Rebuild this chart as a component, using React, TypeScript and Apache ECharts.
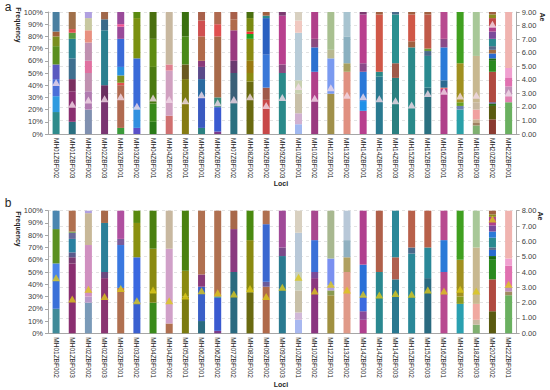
import React, { useEffect, useRef } from 'react';
import * as echarts from 'echarts';

const LOCI = ['MH01ZBF002','MH01ZBF003','MH02ZBF002','MH02ZBF003','MH03ZBF001','MH03ZBF002','MH04ZBF001','MH04ZBF002','MH05ZBF001','MH06ZBF001','MH06ZBF002','MH07ZBF002','MH08ZBF002','MH09ZBF002','MH09ZBF003','MH10ZBF001','MH10ZBF002','MH12ZBF001','MH13ZBF002','MH14ZBF001','MH14ZBF002','MH14ZBF003','MH15ZBF002','MH15ZBF003','MH16ZBF001','MH16ZBF002','MH18ZBF003','MH20ZBF002','MH22ZBF001'];

// Panel a: allele frequencies (%), bottom to top
const FREQ_A: number[][] = [
  [18,13,14,12,15,8,4,16],
  [10,25,10,17,16,5,3,14],
  [20,15,15,10,15,10,10,5],
  [27,13,45,9,6],
  [5,35,2,6,7,23,10,2,10],
  [5,17,40,33,5],
  [10,15,30,23,22],
  [15,37,5,43],
  [25,20,12,23,20],
  [5,25,15,10,5,20,13,7],
  [2,20,8,50,10,10],
  [25,25,10,25,9,6],
  [43,7,10,18,4,2,11,5],
  [28,10,27,30,2,3],
  [50,7,40,3],
  [8,9,16,11,39,10,7],
  [27,24,20,7,22],
  [33,29,7,31],
  [51,7,22,20],
  [19,8,24,7,40,2],
  [47,4,47,2],
  [46,12,40,2],
  [71,5,22,2],
  [38,26,4,2,28,2],
  [37,1,6,27,7,22],
  [20,3,3,32,42],
  [7,2,3,8,6,38,36],
  [12,11,2,1,25,9,2,4,3,3,6,6,4,7,3,2],
  [26,5,8,7,8,46],
];
const AE_A = [3.8,2.2,2.5,2.6,2.75,2.05,2.65,2.55,2.45,2.9,2.3,2.55,2.75,2.1,2.7,3.5,2.64,3.42,2.86,2.74,2.6,2.45,2.14,2.98,3.15,2.81,2.86,8.1,3.05];

// Panel b
const FREQ_B: number[][] = [
  [20,23,14,28,15],
  [57,5,4,11,5,1,17],
  [25,5,42,26,2],
  [45,5,40,10],
  [37,35,5,23],
  [25,37,28,10],
  [25,8,36,31],
  [8,61,31],
  [30,21,49],
  [10,28,10,52],
  [2,27,1,70],
  [50,35,15],
  [33,43,24],
  [38,4,47,11],
  [63,7,30],
  [11,6,18,15,32,18],
  [45,5,26,24],
  [31,4,4,22,39],
  [50,12,14,24],
  [11,7,12,26,44],
  [50,50],
  [44,18,38],
  [65,5,30],
  [45,25,30],
  [50,26,24],
  [24,6,30,40],
  [7,4,13,46,30],
  [18,26,16,3,5,2,8,5,5,7,2,3],
  [31,3,4,17,6,39],
];
const AE_B = [3.62,2.24,2.87,2.4,2.93,2.13,2.83,2.13,2.43,2.78,2.65,2.56,2.93,2.4,3.0,3.65,2.76,3.2,2.83,2.55,2.5,2.6,2.55,2.83,2.76,2.87,2.76,7.46,3.2];

const FREQ_TICKS = [0,10,20,30,40,50,60,70,80,90,100];
const AE_MAX_A = 9;
const AE_MAX_B = 8;

// Colours (styles), parallel to FREQ arrays
const COL_A: string[][] = [
  ['#2e8b8b','#2e9be0','#4a6fd8','#5a5ac0','#5a8f1e','#7a8f20','#a0603a','#4a7fa0'],
  ['#2a6f80','#8a2f70','#7a3060','#3f6f8f','#2a8090','#5a9a40','#e05050','#a0704a'],
  ['#8090b0','#b07ab0','#c090b0','#e070a0','#c090b0','#e89080','#c8c8a0','#b0a0e0'],
  ['#7a3572','#6a3060','#2a7f90','#3a6a8a','#a0684a'],
  ['#3a9a3a','#b06a50','#e05050','#7a9020','#2a90e0','#3a6ad8','#9a4a9a','#f05090','#9a4a9a'],
  ['#5a50c8','#3090e0','#3a6ad8','#7a9010','#5a8a10'],
  ['#2a7a18','#3a8a1a','#4a7a10','#5e8c12','#4a7010'],
  ['#d07070','#d0a0c0','#e08090','#c8b8a0'],
  ['#857b12','#7a7a10','#6a5a20','#4a8a1a','#3a7010'],
  ['#2a8080','#3a5ac0','#2a6aa0','#5a4a8a','#8a3a7a','#b06a4a','#d05050','#a8604a'],
  ['#7a3a8a','#3a5ad0','#3a8a7a','#a86a4a','#e05050','#b06a50'],
  ['#2a7080','#3a6078','#6a3a70','#9a3a80','#b06a4a','#a8604a'],
  ['#6a6a10','#8a8a10','#9a7a10','#8a8a10','#20a020','#f03030','#7a8a10','#4a7010'],
  ['#c84848','#a05a4a','#3a78d8','#2a60c0','#2a8a8a','#a06040'],
  ['#2a8a8a','#8a4a80','#b8408e','#7a3a70'],
  ['#a0b8f0','#d0b0d0','#c8c0a8','#c8d0b0','#b8ccd8','#f0c8c0','#d8d0c0'],
  ['#9a3a80','#b0408a','#2a70d0','#8a4a80','#b0408a'],
  ['#a0904a','#7a9af0','#b8b890','#a8c090'],
  ['#e09080','#a8a060','#8ab0c0','#a8c4d0'],
  ['#b8408e','#2090e8','#2a78d8','#8a4a8a','#b8408e','#7a3a70'],
  ['#2a7a90','#2a8888','#d05848','#a06040'],
  ['#2a8080','#a05a4a','#2a9090','#4a6a8a'],
  ['#2a8a8a','#a06040','#d05848','#a06040'],
  ['#2a7080','#2a8a90','#4a6a8a','#6a9a3a','#c05a4a','#a06040'],
  ['#b0408a','#e05050','#2a6a90','#2a7ad8','#8a4a8a','#b84a90'],
  ['#2aa0a8','#6a80b0','#6aa020','#a09020','#40a020'],
  ['#80b070','#a08060','#c8b090','#f0a0a0','#c8b8a0','#c8b890','#a8c898'],
  ['#8a3a30','#5a5a10','#2a6a10','#4a4a9a','#b04a40','#2a8a20','#1a6a10','#2a6ad0','#a06a40','#5a6a8a','#2a8a90','#7a4a9a','#b0408a','#c04848','#8a8a20','#a06040'],
  ['#6ab060','#e080b0','#c090b8','#e070b0','#f0a0d0','#f0b4b0'],
];
const COL_B: string[][] = [
  ['#3f8a98','#3a70d8','#4a84e8','#5a9020','#4a86b0'],
  ['#8a2f70','#7a3a70','#5a5a8a','#2a80a0','#6a6a9a','#6a9a40','#b07050'],
  ['#7a9ab8','#b898c8','#d090c0','#c8b898','#b0a0e0'],
  ['#8a3572','#6a4a80','#2a7f98','#a86a4a'],
  ['#b07050','#3a78e0','#7a5a9a','#b050a0'],
  ['#3a60d0','#3a68e0','#8a9010','#5a8a10'],
  ['#3a8a1a','#7a8010','#8a8a10','#4a8010'],
  ['#b07050','#d0a0c8','#c8b8a0'],
  ['#7a7a10','#8a8a10','#4a8010'],
  ['#2a6a80','#3a60c8','#8a3a7a','#b07050'],
  ['#7a3a8a','#3a5ad0','#2a8a8a','#b07050'],
  ['#2a6a80','#8a3a80','#a8684a'],
  ['#6a6a10','#8a8a10','#4a8a10'],
  ['#b06a4a','#6a5a9a','#3a68d0','#b07050'],
  ['#2a7a90','#7a4a8a','#a04a98'],
  ['#a8b8f0','#d0b8d8','#c8c0a8','#c8d0c0','#b8c8d8','#d8d0c0'],
  ['#8a3580','#7a4a9a','#3a70d8','#a84890'],
  ['#a09040','#8a9a50','#b0a0e0','#7a90f0','#a8b890'],
  ['#e09a88','#b0a060','#90b0c0','#b8c8d8'],
  ['#b0408e','#8a4a9a','#3a6ae0','#2a70d8','#b0408e'],
  ['#2a8890','#b0604a'],
  ['#2a7890','#b06050','#2a8898'],
  ['#2a8898','#4a6a8a','#b8604a'],
  ['#2a6a80','#2a8898','#b8604a'],
  ['#b84a90','#2a7ad8','#b84a90'],
  ['#2aa0b0','#8a9a20','#a09020','#40a020'],
  ['#80b070','#c8b8a0','#f0a8a0','#c8b890','#a8c898'],
  ['#5a5a10','#b04a40','#2a8a20','#1a6a10','#2a6ad0','#5a6a8a','#2a8a90','#2a7ad8','#7a4a9a','#b0408a','#8a8a20','#a06040'],
  ['#6ab060','#a08a60','#c090b8','#e070b0','#f0a0d0','#f0b4b0'],
];

const FONT = 'Liberation Sans, Arial, sans-serif';

function barSeries(freq: number[][], cols: string[][], g: number) {
  const maxK = Math.max(...freq.map((f) => f.length));
  const out: any[] = [];
  for (let k = 0; k < maxK; k++) {
    out.push({
      type: 'bar',
      xAxisIndex: g,
      yAxisIndex: g * 2,
      stack: 'panel' + g,
      barWidth: 7,
      silent: true,
      data: freq.map((f, i) => (k < f.length ? { value: f[k], itemStyle: { color: cols[i][k] } } : '-')),
    });
  }
  return out;
}

function xAxis(g: number) {
  return {
    type: 'category',
    gridIndex: g,
    data: LOCI,
    axisLine: { lineStyle: { color: '#a6a6a6' } },
    axisTick: { show: false },
    axisLabel: { rotate: -90, interval: 0, fontSize: 6.5, color: '#262626', fontFamily: FONT, margin: 4 },
  };
}

function leftAxis(g: number) {
  return {
    type: 'value',
    gridIndex: g,
    min: FREQ_TICKS[0],
    max: FREQ_TICKS[FREQ_TICKS.length - 1],
    interval: 10,
    axisLine: { show: true, lineStyle: { color: '#a6a6a6' } },
    axisTick: { show: true, length: 3, lineStyle: { color: '#a6a6a6' } },
    axisLabel: { formatter: '{value}%', fontSize: 7.5, color: '#404040', fontFamily: FONT, margin: 5 },
    splitLine: { show: false },
  };
}

function rightAxis(g: number, max: number) {
  return {
    type: 'value',
    gridIndex: g,
    position: 'right',
    min: 0,
    max,
    interval: 1,
    axisLine: { show: true, lineStyle: { color: '#a6a6a6' } },
    axisTick: { show: true, length: 3, lineStyle: { color: '#a6a6a6' } },
    axisLabel: { formatter: (v: number) => v.toFixed(2), fontSize: 7.5, color: '#404040', fontFamily: FONT, margin: 5 },
    splitLine: { show: true, lineStyle: { color: '#d0d0d0', type: [3, 3], width: 0.6 } },
  };
}

function titleText(text: string, x: number, y: number, rot: number, size: number, bold = true) {
  return {
    type: 'text',
    x,
    y,
    rotation: rot,
    style: {
      text,
      fontSize: size,
      fontWeight: bold ? 'bold' : 'normal',
      fontFamily: FONT,
      fill: '#262626',
      align: 'center',
      verticalAlign: 'middle',
    },
  };
}

export default function App() {
  const ref = useRef<HTMLDivElement>(null);
  useEffect(() => {
    if (!ref.current) return;
    const chart = echarts.init(ref.current, undefined, { renderer: 'svg' });
    const option: any = {
      animation: false,
      backgroundColor: '#ffffff',
      grid: [
        { left: 48, top: 12, width: 468.7, height: 122 },
        { left: 48, top: 210.7, width: 468.7, height: 122.6 },
      ],
      xAxis: [xAxis(0), xAxis(1)],
      yAxis: [leftAxis(0), rightAxis(0, AE_MAX_A), leftAxis(1), rightAxis(1, AE_MAX_B)],
      series: [
        ...barSeries(FREQ_A, COL_A, 0),
        ...barSeries(FREQ_B, COL_B, 1),
        {
          type: 'scatter',
          xAxisIndex: 0,
          yAxisIndex: 1,
          symbol: 'triangle',
          symbolSize: [8, 7],
          itemStyle: { color: '#f3dbe8' },
          data: AE_A,
          z: 10,
          silent: true,
        },
        {
          type: 'scatter',
          xAxisIndex: 1,
          yAxisIndex: 3,
          symbol: 'triangle',
          symbolSize: [8, 7],
          itemStyle: { color: '#dcc81a' },
          data: AE_B,
          z: 10,
          silent: true,
        },
      ],
      graphic: [
        titleText('a', 8, 7, 0, 12, false),
        titleText('b', 8, 203, 0, 12, false),
        titleText('Frequency', 18, 25, -Math.PI / 2, 7),
        titleText('Frequency', 18, 229, -Math.PI / 2, 7),
        titleText('Ae', 542, 17, -Math.PI / 2, 7),
        titleText('Ae', 540, 216, -Math.PI / 2, 7),
        titleText('Loci', 281, 183, 0, 7),
        titleText('Loci', 281, 384, 0, 7),
      ],
    };
    chart.setOption(option);
    return () => chart.dispose();
  }, []);
  return <div ref={ref} style={{ position: 'fixed', left: 0, top: 0, width: 550, height: 390 }} />;
}
